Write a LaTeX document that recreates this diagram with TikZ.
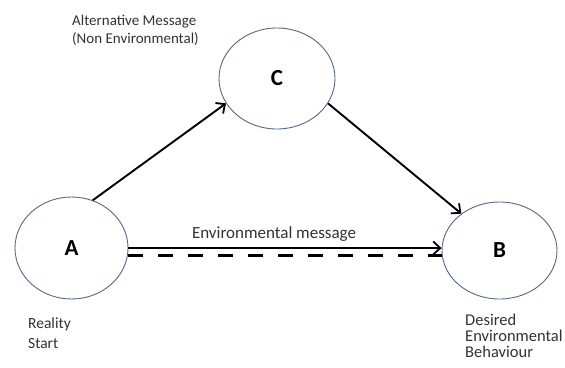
\documentclass[tikz,border=0pt]{standalone}
\usepackage{fontspec}
\setmainfont{Carlito}
\usepackage{xcolor}
\usetikzlibrary{arrows.meta,positioning,calc,shapes.geometric}
\definecolor{ringcol}{RGB}{84,104,134}
\definecolor{txtcol}{RGB}{50,50,50}
\begin{document}
\begin{tikzpicture}[x=1pt,y=-1pt,
  st/.style={ellipse,draw=ringcol,line width=0.9pt,inner sep=0pt,
    font=\fontsize{23}{26}\selectfont\bfseries},
  lbl/.style={anchor=base west,align=left,text=txtcol,inner sep=0pt},
  tr/.style={-{Straight Barb[length=7pt,width=13pt,line width=1.8pt]},line width=1.9pt},
  dashln/.style={line width=3pt,dash pattern=on 15pt off 15pt}]
  \useasboundingbox (0,0) rectangle (565,367);
  \node[st,minimum width=113pt,minimum height=102pt](a) at (71.5,248){A};
  \node[st,minimum width=115pt,minimum height=97pt](b) at (499.5,250.5){B};
  \node[st,minimum width=116pt,minimum height=101pt](c) at (277,78.5){C};
  % labels (base = last line)
  \node[lbl,font=\fontsize{15}{17.5}\selectfont](calt) at (72,43){Alternative Message\\(Non Environmental)};
  \node[lbl,font=\fontsize{15.5}{20}\selectfont](areal) at (28,348){Reality\\Start};
  \node[lbl,font=\fontsize{16.5}{16}\selectfont](bdes) at (465,357){Desired\\Environmental\\Behaviour};
  % messages
  \draw[tr] (a.66) -- (c.206);
  \draw[tr] (c.-26) -- (b.136);
  \draw[tr] (a.east) -- (a.east -| b.west) node[pos=0.465,above=2pt,text=txtcol,font=\fontsize{17}{20}\selectfont](envmsg){Environmental message};
  \draw[dashln] ([yshift=-7pt]a.east) -- ([yshift=-7pt]a.east -| b.west);
\end{tikzpicture}
\end{document}
